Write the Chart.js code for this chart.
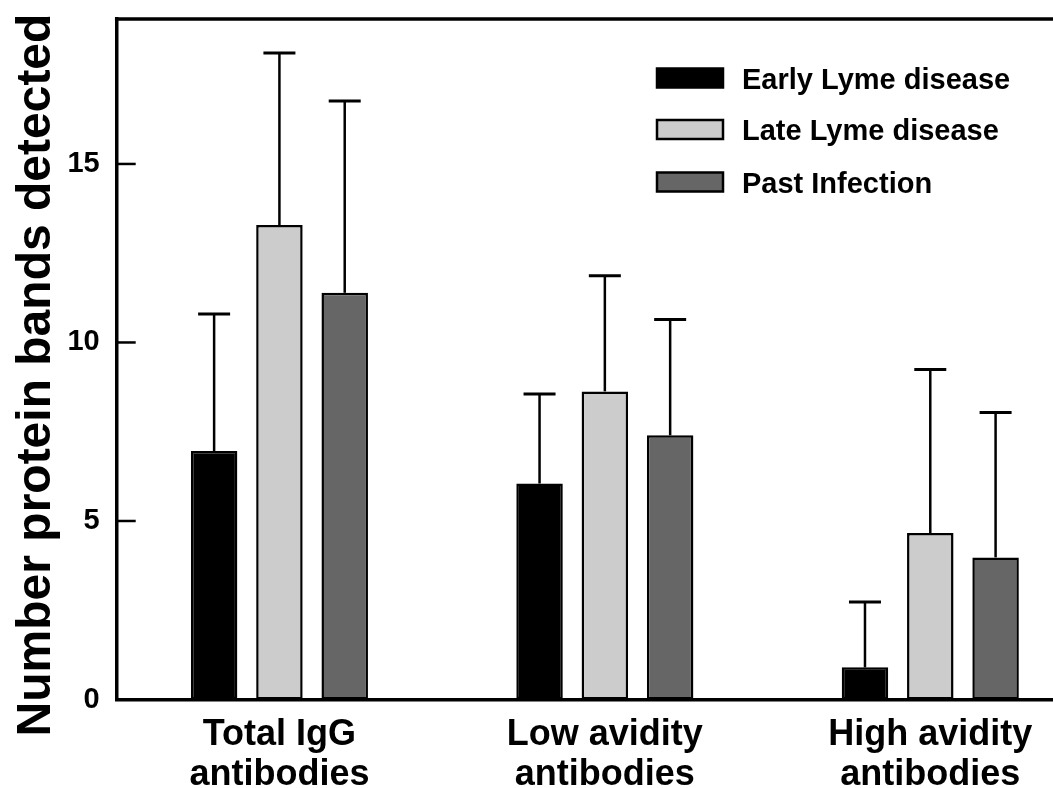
<!DOCTYPE html>
<html>
<head>
<meta charset="utf-8">
<script src="https://cdn.jsdelivr.net/npm/chart.js@4"></script>
<style>
  html, body { margin: 0; padding: 0; background: #fff; overflow: hidden; }
  canvas { display: block; }
</style>
</head>
<body>
<canvas id="bandsChart" width="1100" height="788"></canvas>
<script>
// Data
const categories = [
  ['Total IgG', 'antibodies'],
  ['Low avidity', 'antibodies'],
  ['High avidity', 'antibodies']
];
const seriesNames = ['Early Lyme disease', 'Late Lyme disease', 'Past Infection'];
const seriesColors = ['#000000', '#cccccc', '#666666'];

const earlyMeans = [6.96, 6.05, 0.90];
const earlySD    = [3.84, 2.51, 1.83];
const lateMeans  = [13.29, 8.63, 4.66];
const lateSD     = [4.82, 3.24, 4.58];
const pastMeans  = [11.39, 7.40, 3.98];
const pastSD     = [5.37, 3.24, 4.06];

const yTicks = [0, 5, 10, 15];
const yTitle = 'Number protein bands detected';

const FONT = '"Liberation Sans", Arial, Helvetica, sans-serif';

// Error bars (upper only) with caps
const errorBars = {
  id: 'errorBars',
  afterDatasetsDraw(chart) {
    const ctx = chart.ctx;
    const y = chart.scales.y;
    chart.data.datasets.forEach((ds, i) => {
      chart.getDatasetMeta(i).data.forEach((bar, j) => {
        const top = y.getPixelForValue(ds.data[j] + ds.sd[j]);
        ctx.save();
        ctx.strokeStyle = '#000';
        ctx.lineWidth = 2.5;
        ctx.beginPath();
        ctx.moveTo(bar.x, bar.y);
        ctx.lineTo(bar.x, top);
        ctx.stroke();
        ctx.lineWidth = 3;
        ctx.beginPath();
        ctx.moveTo(bar.x - 16, top);
        ctx.lineTo(bar.x + 16, top);
        ctx.stroke();
        ctx.restore();
      });
    });
  }
};

// Frame, inward ticks, axis texts and legend
const decorations = {
  id: 'decorations',
  afterDraw(chart) {
    const ctx = chart.ctx;
    const area = chart.chartArea;
    const x = chart.scales.x;
    const y = chart.scales.y;
    ctx.save();

    // top frame line
    ctx.strokeStyle = '#000';
    ctx.lineWidth = 3.5;
    ctx.beginPath();
    ctx.moveTo(area.left - 1.75, area.top);
    ctx.lineTo(chart.width, area.top);
    ctx.stroke();

    // inward tick marks
    ctx.lineWidth = 2.5;
    yTicks.forEach(v => {
      if (v === 0) return;
      const py = y.getPixelForValue(v);
      ctx.beginPath();
      ctx.moveTo(area.left, py);
      ctx.lineTo(area.left + 19, py);
      ctx.stroke();
    });

    ctx.fillStyle = '#000';

    // y title
    ctx.save();
    ctx.translate(50, 375);
    ctx.rotate(-Math.PI / 2);
    ctx.font = 'bold 48px ' + FONT;
    ctx.textAlign = 'center';
    ctx.textBaseline = 'alphabetic';
    ctx.fillText(yTitle, 0, 0);
    ctx.restore();

    // category labels
    ctx.font = 'bold 36px ' + FONT;
    ctx.textAlign = 'center';
    ctx.textBaseline = 'alphabetic';
    categories.forEach((lines, i) => {
      const cx = x.getPixelForValue(i);
      lines.forEach((line, k) => {
        ctx.fillText(line, cx, 745 + k * 40);
      });
    });

    // legend
    const rows = [78, 129.5, 182];
    ctx.font = 'bold 29px ' + FONT;
    ctx.textAlign = 'left';
    chart.data.datasets.forEach((ds, i) => {
      const c = rows[i];
      ctx.fillStyle = ds.backgroundColor;
      ctx.fillRect(657, c - 9.5, 66, 19);
      ctx.lineWidth = 2.5;
      ctx.strokeStyle = '#000';
      ctx.strokeRect(657, c - 9.5, 66, 19);
      ctx.fillStyle = '#000';
      ctx.fillText(ds.label, 742, c + 10.5);
    });

    ctx.restore();
  }
};

const ctx = document.getElementById('bandsChart').getContext('2d');
new Chart(ctx, {
  type: 'bar',
  data: {
    labels: categories.map(c => c.join(' ')),
    datasets: [
      { label: seriesNames[0], data: earlyMeans, sd: earlySD, backgroundColor: seriesColors[0] },
      { label: seriesNames[1], data: lateMeans,  sd: lateSD,  backgroundColor: seriesColors[1] },
      { label: seriesNames[2], data: pastMeans,  sd: pastSD,  backgroundColor: seriesColors[2] }
    ]
  },
  options: {
    responsive: false,
    animation: false,
    devicePixelRatio: 1,
    layout: { padding: { top: 19, right: 7, left: 0, bottom: 0 } },
    datasets: {
      bar: {
        borderColor: '#000',
        borderWidth: 2.5,
        borderSkipped: false,
        categoryPercentage: 0.602,
        barPercentage: 0.712
      }
    },
    plugins: {
      legend: { display: false },
      tooltip: { enabled: false }
    },
    scales: {
      x: {
        grid: { display: false },
        border: { display: true, color: '#000', width: 3.5 },
        ticks: { display: false },
        afterFit(scale) { scale.height = 88.5; }
      },
      y: {
        min: 0,
        max: 19.06,
        grid: { display: false, drawTicks: false },
        border: { display: true, color: '#000', width: 3.5 },
        ticks: {
          stepSize: 5,
          includeBounds: false,
          padding: 17,
          color: '#000',
          font: { family: FONT, size: 29, weight: 'bold' },
          callback: v => (yTicks.includes(v) ? String(v) : '')
        },
        afterFit(scale) {
          scale.width = 116.7;
          scale.paddingTop = 0;
          scale.paddingBottom = 0;
        }
      }
    }
  },
  plugins: [errorBars, decorations]
});
</script>
</body>
</html>
